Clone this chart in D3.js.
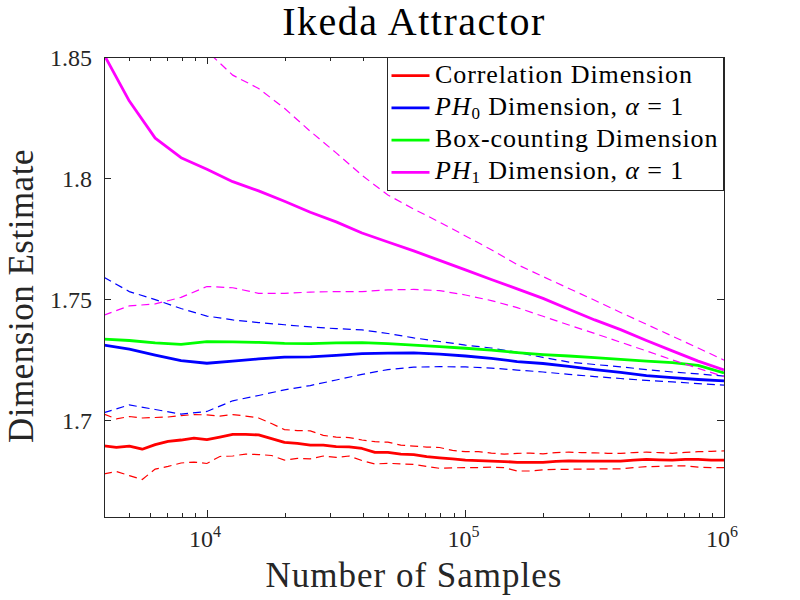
<!DOCTYPE html>
<html><head><meta charset="utf-8">
<script src="https://cdn.jsdelivr.net/npm/d3@7"></script>
<style>body{margin:0;background:#fff}svg{display:block}</style>
</head><body>
<svg id="chart" width="800" height="600"></svg>
<script>
// ---------------- data ----------------
const samplesCoarse = [4000, 5012, 6310, 7943, 10000, 12589, 15849, 19953, 25119, 31623, 39811, 50119, 63096, 79433, 100000, 125893, 158489, 199526, 251189, 316228, 398107, 501187, 630957, 794328, 1000000];
const samplesFine = [4000, 4467, 5012, 5623, 6310, 7079, 7943, 8913, 10000, 11220, 12589, 14125, 15849, 17783, 19953, 22387, 25119, 28184, 31623, 35481, 39811, 44668, 50119, 56234, 63096, 70795, 79433, 89125, 100000, 112202, 125893, 141254, 158489, 177828, 199526, 223872, 251189, 281838, 316228, 354813, 398107, 446684, 501187, 562341, 630957, 707946, 794328, 891251, 1000000];

const corrMean = [1.6894, 1.6888, 1.6893, 1.6880, 1.6899, 1.6912, 1.6918, 1.6926, 1.6920, 1.6930, 1.6941, 1.6941, 1.6939, 1.6924, 1.6908, 1.6904, 1.6897, 1.6897, 1.6891, 1.6890, 1.6883, 1.6867, 1.6867, 1.6860, 1.6858, 1.6849, 1.6844, 1.6840, 1.6835, 1.6833, 1.6831, 1.6829, 1.6826, 1.6826, 1.6826, 1.6830, 1.6832, 1.6831, 1.6831, 1.6831, 1.6831, 1.6835, 1.6838, 1.6836, 1.6835, 1.6838, 1.6838, 1.6835, 1.6835];
const corrUpper = [1.7025, 1.7005, 1.7015, 1.7009, 1.7011, 1.7013, 1.7019, 1.7023, 1.7022, 1.7017, 1.7023, 1.7017, 1.7009, 1.6986, 1.6961, 1.6957, 1.6956, 1.6937, 1.6930, 1.6928, 1.6918, 1.6911, 1.6909, 1.6897, 1.6893, 1.6889, 1.6887, 1.6875, 1.6870, 1.6870, 1.6864, 1.6860, 1.6863, 1.6864, 1.6861, 1.6866, 1.6868, 1.6866, 1.6865, 1.6863, 1.6863, 1.6866, 1.6868, 1.6866, 1.6863, 1.6867, 1.6870, 1.6871, 1.6873];
const corrLower = [1.6778, 1.6788, 1.6771, 1.6755, 1.6798, 1.6809, 1.6823, 1.6827, 1.6821, 1.6850, 1.6852, 1.6860, 1.6858, 1.6854, 1.6835, 1.6842, 1.6840, 1.6852, 1.6846, 1.6852, 1.6833, 1.6819, 1.6822, 1.6819, 1.6817, 1.6809, 1.6801, 1.6803, 1.6804, 1.6804, 1.6806, 1.6804, 1.6790, 1.6790, 1.6795, 1.6797, 1.6797, 1.6798, 1.6798, 1.6799, 1.6799, 1.6804, 1.6808, 1.6809, 1.6811, 1.6811, 1.6806, 1.6804, 1.6804];

const ph0Mean  = [1.7310, 1.7293, 1.7269, 1.7246, 1.7235, 1.7244, 1.7253, 1.7260, 1.7261, 1.7268, 1.7275, 1.7277, 1.7278, 1.7273, 1.7265, 1.7255, 1.7242, 1.7234, 1.7222, 1.7209, 1.7197, 1.7184, 1.7176, 1.7168, 1.7162];
const ph0Upper = [1.7590, 1.7531, 1.7498, 1.7461, 1.7430, 1.7414, 1.7403, 1.7394, 1.7385, 1.7378, 1.7373, 1.7358, 1.7340, 1.7325, 1.7310, 1.7298, 1.7280, 1.7259, 1.7240, 1.7230, 1.7220, 1.7209, 1.7199, 1.7191, 1.7182];
const ph0Lower = [1.7031, 1.7063, 1.7044, 1.7025, 1.7036, 1.7080, 1.7102, 1.7125, 1.7143, 1.7166, 1.7189, 1.7209, 1.7219, 1.7221, 1.7220, 1.7215, 1.7207, 1.7199, 1.7189, 1.7180, 1.7172, 1.7164, 1.7158, 1.7151, 1.7145];

const boxMean = [1.7335, 1.7329, 1.7319, 1.7313, 1.7324, 1.7323, 1.7321, 1.7317, 1.7316, 1.7319, 1.7320, 1.7316, 1.7310, 1.7304, 1.7297, 1.7289, 1.7279, 1.7271, 1.7265, 1.7258, 1.7251, 1.7244, 1.7238, 1.7226, 1.7195];

const ph1Mean  = [1.8510, 1.8318, 1.8165, 1.8084, 1.8036, 1.7985, 1.7947, 1.7904, 1.7859, 1.7819, 1.7773, 1.7736, 1.7699, 1.7660, 1.7621, 1.7581, 1.7542, 1.7503, 1.7458, 1.7414, 1.7374, 1.7329, 1.7286, 1.7244, 1.7207];
const ph1Upper = [1.8900, 1.8800, 1.8710, 1.8620, 1.8525, 1.8425, 1.8370, 1.8288, 1.8193, 1.8104, 1.8011, 1.7930, 1.7872, 1.7818, 1.7761, 1.7704, 1.7643, 1.7593, 1.7544, 1.7495, 1.7445, 1.7396, 1.7347, 1.7298, 1.7248];
const ph1Lower = [1.7434, 1.7472, 1.7480, 1.7507, 1.7552, 1.7547, 1.7524, 1.7524, 1.7529, 1.7531, 1.7531, 1.7538, 1.7540, 1.7535, 1.7517, 1.7494, 1.7465, 1.7429, 1.7393, 1.7358, 1.7322, 1.7286, 1.7249, 1.7214, 1.7180];

const seriesColors = ["#ff0000", "#0000ff", "#00ff00", "#ff00ff"];
const yTicks = [1.7, 1.75, 1.8, 1.85];
const yTickLabels = ["1.7", "1.75", "1.8", "1.85"];
const xTicks = [1e4, 1e5, 1e6];
const xTickExponents = ["4", "5", "6"];
const xMinorTicks = [5000, 6000, 7000, 8000, 9000, 20000, 30000, 40000, 50000, 60000, 70000, 80000, 90000, 200000, 300000, 400000, 500000, 600000, 700000, 800000, 900000];
const legendLabels = [
  [{t: "Correlation Dimension"}],
  [{t: "PH", i: true}, {t: "0", sub: true}, {t: " Dimension, "}, {t: "α", i: true}, {t: " = 1"}],
  [{t: "Box-counting Dimension"}],
  [{t: "PH", i: true}, {t: "1", sub: true}, {t: " Dimension, "}, {t: "α", i: true}, {t: " = 1"}]
];
const titleText = "Ikeda Attractor";
const xLabelText = "Number of Samples";
const yLabelText = "Dimension Estimate";

// ---------------- chart ----------------
const FONT = "'Liberation Serif','Times New Roman',serif";
const AX = "#262626";
const svg = d3.select("#chart");
const L = 104, R = 724, T = 57, B = 517;
const x = d3.scaleLog().domain([4000, 1e6]).range([L, R]);
const y = d3.scaleLinear().domain([1.66, 1.85]).range([B, T]);

svg.append("rect").attr("width", 800).attr("height", 600).attr("fill", "#fff");
svg.append("defs").append("clipPath").attr("id", "clip")
  .append("rect").attr("x", L).attr("y", T).attr("width", R - L).attr("height", B - T);

const plot = svg.append("g").attr("clip-path", "url(#clip)");
const line = d3.line().x(d => x(d[0])).y(d => y(d[1]));
const zip = (xs, ys) => xs.map((v, i) => [v, ys[i]]);

const series = [
  {xs: samplesFine, mean: corrMean, up: corrUpper, lo: corrLower},
  {xs: samplesCoarse, mean: ph0Mean, up: ph0Upper, lo: ph0Lower},
  {xs: samplesCoarse, mean: boxMean},
  {xs: samplesCoarse, mean: ph1Mean, up: ph1Upper, lo: ph1Lower}
];
series.forEach((s, i) => {
  [s.up, s.lo].forEach(b => {
    if (!b) return;
    plot.append("path").datum(zip(s.xs, b)).attr("d", line)
      .attr("fill", "none").attr("stroke", seriesColors[i]).attr("stroke-width", 1.2)
      .attr("stroke-dasharray", "8,5");
  });
  plot.append("path").datum(zip(s.xs, s.mean)).attr("d", line)
    .attr("fill", "none").attr("stroke", seriesColors[i]).attr("stroke-width", 2.8)
    .attr("stroke-linejoin", "round");
});

// axes box + ticks
function styleAxis(g) {
  g.selectAll("path,line").attr("stroke", AX).attr("stroke-width", 1).attr("shape-rendering", "crispEdges");
  g.selectAll("text").remove();
}
svg.append("g").attr("transform", `translate(0,${B})`)
  .call(d3.axisBottom(x).tickValues(xTicks).tickSize(-7).tickSizeOuter(0).tickFormat("")).call(styleAxis);
svg.append("g").attr("transform", `translate(0,${B})`)
  .call(d3.axisBottom(x).tickValues(xMinorTicks).tickSize(-4).tickSizeOuter(0).tickFormat("")).call(styleAxis);
svg.append("g").attr("transform", `translate(0,${T})`)
  .call(d3.axisTop(x).tickValues(xTicks).tickSize(-7).tickSizeOuter(0).tickFormat("")).call(styleAxis);
svg.append("g").attr("transform", `translate(0,${T})`)
  .call(d3.axisTop(x).tickValues(xMinorTicks).tickSize(-4).tickSizeOuter(0).tickFormat("")).call(styleAxis);
svg.append("g").attr("transform", `translate(${L},0)`)
  .call(d3.axisLeft(y).tickValues(yTicks).tickSize(-7).tickSizeOuter(0).tickFormat("")).call(styleAxis);
svg.append("g").attr("transform", `translate(${R},0)`)
  .call(d3.axisRight(y).tickValues(yTicks).tickSize(-7).tickSizeOuter(0).tickFormat("")).call(styleAxis);

// tick labels
svg.append("g").selectAll("text").data(yTicks).join("text")
  .attr("x", 92).attr("y", d => y(d) + 8.5).attr("text-anchor", "end")
  .attr("font-family", FONT).attr("font-size", 24).attr("fill", AX)
  .text((d, i) => yTickLabels[i]);
const xl = svg.append("g").selectAll("text").data(xTicks).join("text")
  .attr("x", d => x(d) - 2).attr("y", 547).attr("text-anchor", "middle")
  .attr("font-family", FONT).attr("font-size", 24).attr("fill", AX);
xl.append("tspan").text("10");
xl.append("tspan").attr("dy", -10).attr("font-size", 16).text((d, i) => xTickExponents[i]);

// titles
svg.append("text").attr("x", 414).attr("y", 35).attr("text-anchor", "middle")
  .attr("font-family", FONT).attr("font-size", 40).attr("letter-spacing", 1.5).attr("fill", "#000").text(titleText);
svg.append("text").attr("x", 414).attr("y", 587).attr("text-anchor", "middle")
  .attr("font-family", FONT).attr("font-size", 35).attr("letter-spacing", 1).attr("fill", AX).text(xLabelText);
svg.append("text").attr("transform", "translate(33,296) rotate(-90)").attr("text-anchor", "middle")
  .attr("font-family", FONT).attr("font-size", 35).attr("letter-spacing", 0.5).attr("fill", AX).text(yLabelText);

// legend
const lg = svg.append("g");
lg.append("rect").attr("x", 387.5).attr("y", 57.5).attr("width", 336).attr("height", 133)
  .attr("fill", "#fff").attr("stroke", AX).attr("stroke-width", 1);
legendLabels.forEach((parts, i) => {
  const ly = 75.7 + i * 32.2;
  lg.append("line").attr("x1", 391.5).attr("x2", 429.5).attr("y1", ly).attr("y2", ly)
    .attr("stroke", seriesColors[i]).attr("stroke-width", 2.8);
  const t = lg.append("text").attr("x", 435).attr("y", ly + 7)
    .attr("font-family", FONT).attr("font-size", 26).attr("letter-spacing", 0.9).attr("fill", "#000");
  parts.forEach((p, k) => {
    const ts = t.append("tspan").text(p.t);
    if (p.i) ts.attr("font-style", "italic");
    if (p.sub) { ts.attr("font-size", 17).attr("dy", 4); }
    else if (k > 0 && parts[k - 1].sub) ts.attr("dy", -4);
  });
});
</script>
</body></html>
